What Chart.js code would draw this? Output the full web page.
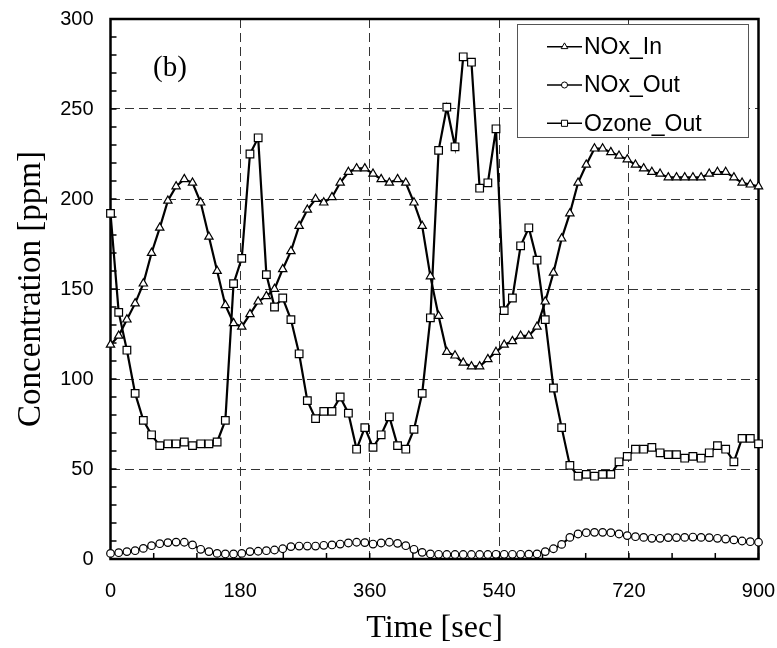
<!DOCTYPE html>
<html>
<head>
<meta charset="utf-8">
<script src="https://cdn.jsdelivr.net/npm/chart.js@4.4.1/dist/chart.umd.min.js"></script>
<style>
    html, body { margin: 0; padding: 0; background: #fff; }
    canvas { display: block; }
</style>
</head>
<body>
<canvas id="concChart" width="777" height="648"></canvas>
<script>
// sample times [sec]
const timeSec = [
    0, 11.4, 22.8, 34.2, 45.6, 57.0, 68.4, 79.7, 91.1, 102.5,
    113.9, 125.3, 136.7, 148.1, 159.5, 170.9, 182.3, 193.7, 205.1, 216.5,
    227.8, 239.2, 250.6, 262.0, 273.4, 284.8, 296.2, 307.6, 319.0, 330.4,
    341.8, 353.2, 364.6, 375.9, 387.3, 398.7, 410.1, 421.5, 432.9, 444.3,
    455.7, 467.1, 478.5, 489.9, 501.3, 512.7, 524.1, 535.4, 546.8, 558.2,
    569.6, 581.0, 592.4, 603.8, 615.2, 626.6, 638.0, 649.4, 660.8, 672.2,
    683.5, 694.9, 706.3, 717.7, 729.1, 740.5, 751.9, 763.3, 774.7, 786.1,
    797.5, 808.9, 820.3, 831.6, 843.0, 854.4, 865.8, 877.2, 888.6, 900.0
];

const noxIn = [
    119, 124, 133, 142, 153, 170, 184, 199, 207, 211,
    209, 198, 179, 160, 141, 131, 129, 136, 143, 146,
    150, 161, 171, 185, 194, 200, 198, 201, 209, 215,
    217, 217, 214, 211, 209, 211, 209, 198, 185, 157,
    135, 115, 113, 109, 107, 107, 111, 115, 119, 121,
    124, 124, 129, 143, 159, 178, 192, 209, 219, 228,
    228, 226, 224, 222, 219, 217, 215, 214, 212, 212,
    212, 212, 212, 214, 215, 215, 212, 209, 208, 207
];

const noxOut = [
    3.1, 3.5, 4.1, 4.6, 5.9, 7.4, 8.5, 9.1, 9.4, 9.3,
    7.8, 5.4, 4.1, 3.1, 2.8, 2.8, 3.1, 4.1, 4.3, 4.6,
    5.0, 5.7, 6.9, 7.2, 7.2, 7.2, 7.6, 7.8, 8.3, 8.9,
    9.3, 9.1, 8.3, 8.9, 9.3, 8.7, 7.4, 5.4, 3.7, 2.8,
    2.6, 2.5, 2.5, 2.5, 2.5, 2.5, 2.5, 2.6, 2.6, 2.6,
    2.6, 2.7, 2.8, 4.1, 5.7, 8.1, 12.0, 13.9, 14.6, 14.8,
    14.8, 14.6, 13.9, 13.0, 12.4, 12.0, 11.5, 11.5, 11.9, 11.9,
    12.0, 12.2, 12.0, 11.9, 11.5, 11.1, 10.6, 10.0, 9.6, 9.3
];

const ozoneOut = [
    192, 137, 116, 92, 77, 69, 63, 64, 64, 65,
    63, 64, 64, 65, 77, 153, 167, 225, 234, 158,
    140, 145, 133, 114, 88, 78, 82, 82, 90, 81,
    61, 73, 62, 69, 79, 63, 61, 72, 92, 134,
    227, 251, 229, 279, 276, 206, 209, 239, 138, 145,
    174, 184, 166, 133, 95, 73, 52, 46, 47, 46,
    47, 47, 54, 57, 61, 61, 62, 59, 58, 58,
    56, 57, 56, 59, 63, 61, 54, 67, 67, 64
];

const seriesNames = ["NOx_In", "NOx_Out", "Ozone_Out"];
const seriesMarkers = ["triangle", "circle", "rect"];
const xTicks = [0, 180, 360, 540, 720, 900];
const yTicks = [0, 50, 100, 150, 200, 250, 300];

const SANS = "'Liberation Sans', Arial, sans-serif";
const SERIF = "'Liberation Serif', 'Times New Roman', serif";

function toPoints(values) {
    return timeSec.map((t, i) => ({ x: t, y: values[i] }));
}

function drawMarker(ctx, style, x, y, r) {
    ctx.beginPath();
    if (style === "triangle") {
        ctx.moveTo(x, y - r);
        ctx.lineTo(x + r * 0.866, y + r / 2);
        ctx.lineTo(x - r * 0.866, y + r / 2);
        ctx.closePath();
    } else if (style === "circle") {
        ctx.arc(x, y, r, 0, Math.PI * 2);
    } else {
        const s = r * Math.SQRT1_2;
        ctx.rect(x - s, y - s, 2 * s, 2 * s);
    }
    ctx.fill();
    ctx.stroke();
}

// scales should not push the plot area in, layout padding decides
function noScalePadding(s) {
    s.paddingTop = 0;
    s.paddingBottom = 0;
    s.paddingLeft = 0;
    s.paddingRight = 0;
}

// inward minor ticks and the heavy frame
const framePlugin = {
    id: "frame",
    beforeDatasetsDraw(chart) {
        const { ctx, chartArea: a, scales: { x, y } } = chart;
        ctx.save();
        ctx.strokeStyle = "#000";
        ctx.lineWidth = 1.5;
        ctx.beginPath();
        for (let v = 0; v <= 300; v += 10) {
            const py = y.getPixelForValue(v);
            ctx.moveTo(a.left, py);
            ctx.lineTo(a.left + 6, py);
        }
        for (let v = 0; v <= 900; v += 60) {
            const px = x.getPixelForValue(v);
            ctx.moveTo(px, a.bottom);
            ctx.lineTo(px, a.bottom - 6);
        }
        ctx.stroke();
        ctx.lineWidth = 2.5;
        ctx.strokeRect(a.left, a.top, a.right - a.left, a.bottom - a.top);

        ctx.fillStyle = "#000";
        ctx.font = "29px " + SERIF;
        ctx.textBaseline = "alphabetic";
        ctx.fillText("(b)", a.left + 42.5, a.top + 57);
        ctx.restore();
    }
};

// boxed legend in the upper right corner
const legendPlugin = {
    id: "boxLegend",
    afterDraw(chart) {
        const { ctx, chartArea: a } = chart;
        const w = 231, h = 113;
        const left = a.right - 10.5 - w;
        const top = a.top + 5;
        ctx.save();
        ctx.fillStyle = "#fff";
        ctx.fillRect(left, top, w, h);
        ctx.strokeStyle = "#555";
        ctx.lineWidth = 1;
        ctx.strokeRect(left + 0.5, top + 0.5, w, h);

        chart.data.datasets.forEach((ds, k) => {
            const cy = top + 22.7 + k * 38.3;
            ctx.strokeStyle = "#000";
            ctx.lineWidth = 1.5;
            ctx.beginPath();
            ctx.moveTo(left + 30, cy);
            ctx.lineTo(left + 65, cy);
            ctx.stroke();
            ctx.fillStyle = "#fff";
            ctx.lineWidth = 1;
            drawMarker(ctx, ds.pointStyle, left + 47.5, cy, ds.pointRadius * 0.8);
            ctx.fillStyle = "#000";
            ctx.font = "23px " + SANS;
            ctx.textBaseline = "middle";
            ctx.fillText(ds.label, left + 67, cy + 1);
        });
        ctx.restore();
    }
};

document.addEventListener("DOMContentLoaded", function () {

    const canvas = document.getElementById("concChart");
    const ctx = canvas.getContext("2d");

    const seriesValues = [noxIn, noxOut, ozoneOut];
    const seriesRadius = [4.8, 3.8, 5.4];

    const datasets = seriesNames.map((name, k) => ({
        label: name,
        data: toPoints(seriesValues[k]),
        borderColor: "#000",
        borderWidth: 2.2,
        tension: 0,
        pointStyle: seriesMarkers[k],
        pointRadius: seriesRadius[k],
        pointBackgroundColor: "#fff",
        pointBorderColor: "#000",
        pointBorderWidth: 1.2,
        clip: false
    }));

    new Chart(ctx, {
        type: "line",
        data: { datasets: datasets },
        options: {
            responsive: false,
            animation: false,
            events: [],
            layout: { padding: { left: 0, right: 18.5, top: 19, bottom: 0 } },
            plugins: {
                legend: { display: false },
                tooltip: { enabled: false }
            },
            scales: {
                x: {
                    type: "linear",
                    min: 0,
                    max: 900,
                    afterBuildTicks: function (s) {
                        s.ticks = xTicks.map(v => ({ value: v }));
                    },
                    afterFit: function (s) {
                        s.height = 89;
                        noScalePadding(s);
                    },
                    grid: { color: "#333", lineWidth: 1, drawTicks: false },
                    border: { display: false, dash: [9, 5] },
                    ticks: {
                        color: "#000",
                        font: { family: SANS, size: 20 },
                        padding: 20,
                        maxRotation: 0
                    },
                    title: {
                        display: true,
                        text: "Time [sec]",
                        color: "#000",
                        font: { family: SERIF, size: 32 },
                        padding: { top: 0, bottom: 0 }
                    }
                },
                y: {
                    min: 0,
                    max: 300,
                    afterBuildTicks: function (s) {
                        s.ticks = yTicks.map(v => ({ value: v }));
                    },
                    afterFit: function (s) {
                        s.width = 110.5;
                        noScalePadding(s);
                    },
                    grid: { color: "#333", lineWidth: 1, drawTicks: false },
                    border: { display: false, dash: [9, 5] },
                    ticks: {
                        color: "#000",
                        font: { family: SANS, size: 20 },
                        padding: 17
                    },
                    title: {
                        display: true,
                        text: "Concentration [ppm]",
                        color: "#000",
                        font: { family: SERIF, size: 33 },
                        padding: { top: 12, bottom: 0 }
                    }
                }
            }
        },
        plugins: [framePlugin, legendPlugin]
    });
});
</script>
</body>
</html>
